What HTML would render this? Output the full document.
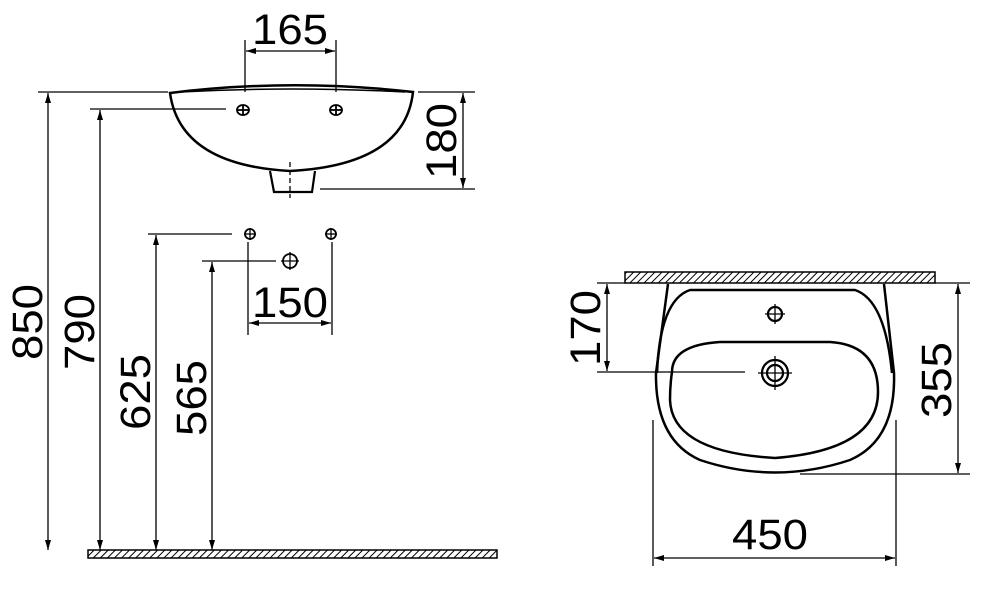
<!DOCTYPE html>
<html><head><meta charset="utf-8"><style>html,body{margin:0;padding:0;background:#fff}</style></head>
<body>
<svg width="985" height="587" viewBox="0 0 985 587" xmlns="http://www.w3.org/2000/svg" font-family="Liberation Sans, sans-serif" fill="none" stroke="#000">
<defs>
<pattern id="h" width="5" height="5" patternUnits="userSpaceOnUse" patternTransform="rotate(45)">
<rect width="5" height="5" fill="#fff" stroke="none"/><line x1="0" y1="0" x2="0" y2="5" stroke="#000" stroke-width="2"/></pattern>
<marker id="a" viewBox="0 0 10 6" refX="10" refY="3" markerWidth="10" markerHeight="6" orient="auto-start-reverse" markerUnits="userSpaceOnUse"><path d="M0,0 L10,3 L0,6 z" fill="#000" stroke="none"/></marker>
</defs>
<g stroke-width="1.3">
<path d="M170,93 Q290,78 413,92 Q405,165 290,171 Q180,165 170,93 Z" stroke-width="2.5"/>
<path d="M180,92 Q290,86 405,92" stroke-width="1.5"/>
<path d="M270,171 L274,192 L312,192 L315,171" stroke-width="2.2"/>
<line x1="290" y1="162" x2="290" y2="198" stroke-dasharray="5,3"/>
<g stroke-width="1.8"><ellipse cx="243" cy="110" rx="6" ry="5"/><line x1="237" y1="110" x2="249" y2="110"/><line x1="243" y1="105" x2="243" y2="115"/>
<ellipse cx="336" cy="110" rx="6" ry="5"/><line x1="330" y1="110" x2="342" y2="110"/><line x1="336" y1="105" x2="336" y2="115"/></g>
<line x1="245" y1="40" x2="245" y2="92"/><line x1="336" y1="40" x2="336" y2="92"/>
<line x1="246" y1="51" x2="335" y2="51" marker-start="url(#a)" marker-end="url(#a)"/>
<line x1="418" y1="92" x2="475" y2="92"/><line x1="320" y1="189" x2="475" y2="189"/>
<line x1="463" y1="93" x2="463" y2="188" marker-start="url(#a)" marker-end="url(#a)"/>
<line x1="38" y1="92" x2="168" y2="92"/><line x1="48" y1="93" x2="48" y2="550" marker-start="url(#a)" marker-end="url(#a)"/>
<line x1="90" y1="109" x2="226" y2="109"/><line x1="100" y1="110" x2="100" y2="550" marker-start="url(#a)" marker-end="url(#a)"/>
<line x1="148" y1="234" x2="232" y2="234"/><line x1="156" y1="235" x2="156" y2="550" marker-start="url(#a)" marker-end="url(#a)"/>
<line x1="202" y1="261" x2="276" y2="261"/><line x1="212" y1="262" x2="212" y2="550" marker-start="url(#a)" marker-end="url(#a)"/>
<g stroke-width="1.8"><circle cx="250" cy="234" r="5"/><circle cx="331" cy="234" r="5"/><circle cx="290" cy="261" r="7"/></g>
<line x1="244" y1="234" x2="256" y2="234"/><line x1="250" y1="228" x2="250" y2="240"/>
<line x1="325" y1="234" x2="337" y2="234"/><line x1="331" y1="228" x2="331" y2="240"/>
<line x1="281" y1="261" x2="299" y2="261"/><line x1="290" y1="252" x2="290" y2="270"/>
<line x1="248" y1="242" x2="248" y2="335"/><line x1="332" y1="242" x2="332" y2="335"/>
<line x1="249" y1="323" x2="331" y2="323" marker-start="url(#a)" marker-end="url(#a)"/>
<rect x="88" y="550" width="409" height="8" fill="url(#h)" stroke-width="1.5"/>

<rect x="625" y="272" width="310" height="11" fill="url(#h)" stroke-width="1.5"/>
<path d="M668,284 L656,373 Q655,440 700,460 Q775,485 850,460 Q896,440 894,373 L884,284" stroke-width="2.5"/>
<path d="M657,373 Q660,300 690,290 L855,290 Q885,300 892,373" stroke-width="2.5"/>
<path d="M672,372 Q672,345 720,342 L830,342 Q878,345 878,392 Q878,450 775,458 Q672,452 670,400 Q670,385 672,372 Z" stroke-width="2.5"/>
<g stroke-width="2.2"><circle cx="775" cy="373" r="13"/><circle cx="775" cy="373" r="8"/><circle cx="775" cy="314" r="7"/></g>
<line x1="758" y1="373" x2="792" y2="373"/><line x1="775" y1="356" x2="775" y2="390"/>
<line x1="765" y1="314" x2="785" y2="314"/><line x1="775" y1="304" x2="775" y2="324"/>
<line x1="597" y1="283" x2="625" y2="283"/><line x1="597" y1="372" x2="745" y2="372"/>
<line x1="607" y1="284" x2="607" y2="371" marker-start="url(#a)" marker-end="url(#a)"/>
<line x1="935" y1="283" x2="970" y2="283"/><line x1="800" y1="474" x2="970" y2="474"/>
<line x1="958" y1="284" x2="958" y2="473" marker-start="url(#a)" marker-end="url(#a)"/>
<line x1="653" y1="420" x2="653" y2="566"/><line x1="896" y1="420" x2="896" y2="566"/>
<line x1="654" y1="558" x2="895" y2="558" marker-start="url(#a)" marker-end="url(#a)"/>
</g>
<g fill="#000" stroke="none" font-size="43">
<text x="290" y="44" text-anchor="middle" textLength="76" lengthAdjust="spacingAndGlyphs">165</text>
<text x="290" y="317" text-anchor="middle" textLength="76" lengthAdjust="spacingAndGlyphs">150</text>
<text x="770" y="549" text-anchor="middle" textLength="76" lengthAdjust="spacingAndGlyphs">450</text>
<text transform="translate(456,141) rotate(-90)" text-anchor="middle" textLength="76" lengthAdjust="spacingAndGlyphs">180</text>
<text transform="translate(42,322) rotate(-90)" text-anchor="middle" textLength="76" lengthAdjust="spacingAndGlyphs">850</text>
<text transform="translate(94,332) rotate(-90)" text-anchor="middle" textLength="76" lengthAdjust="spacingAndGlyphs">790</text>
<text transform="translate(150,392) rotate(-90)" text-anchor="middle" textLength="76" lengthAdjust="spacingAndGlyphs">625</text>
<text transform="translate(206,398) rotate(-90)" text-anchor="middle" textLength="76" lengthAdjust="spacingAndGlyphs">565</text>
<text transform="translate(600,328) rotate(-90)" text-anchor="middle" textLength="76" lengthAdjust="spacingAndGlyphs">170</text>
<text transform="translate(951,380) rotate(-90)" text-anchor="middle" textLength="76" lengthAdjust="spacingAndGlyphs">355</text>
</g>
</svg>
</body></html>
